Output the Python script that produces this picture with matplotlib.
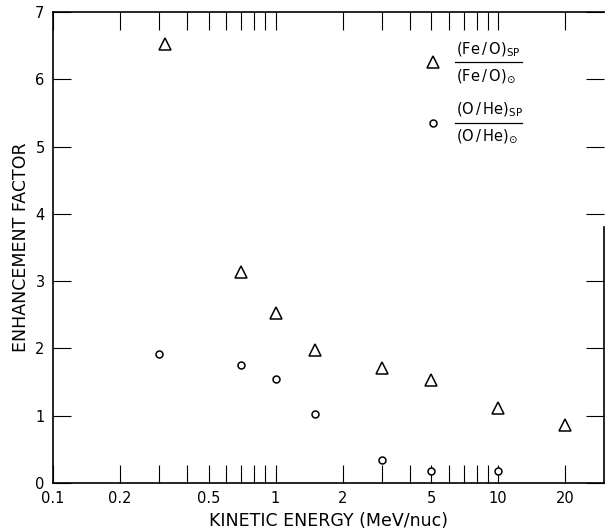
import matplotlib
matplotlib.use("Agg")
import matplotlib.pyplot as plt
from matplotlib.ticker import FixedLocator, NullFormatter, NullLocator

# energies (MeV/nuc) and enhancement factors
energia = [0.32, 0.7, 1.0, 1.5, 3.0, 5.0, 10.0, 20.0]
fe_o = [6.53, 3.14, 2.52, 1.98, 1.71, 1.53, 1.11, 0.86]

energia_o = [0.3, 0.7, 1.0, 1.5, 3.0, 5.0, 10.0]
o_he = [1.91, 1.75, 1.55, 1.03, 0.34, 0.18, 0.18]

x_etiketler = [0.1, 0.2, 0.5, 1, 2, 5, 10, 20]
x_etiket_yazi = ["0.1", "0.2", "0.5", "1", "2", "5", "10", "20"]
x_kucuk = [0.3, 0.4, 0.6, 0.7, 0.8, 0.9, 3, 4, 6, 7, 8, 9]
y_etiketler = [0, 1, 2, 3, 4, 5, 6, 7]

plt.rcParams["font.family"] = "DejaVu Sans"
plt.rcParams["mathtext.fontset"] = "dejavusans"

fig = plt.figure(figsize=(6.08, 5.31), dpi=100)
ax = fig.add_axes([0.087, 0.0904, 0.906, 0.887])

ax.plot(energia, fe_o, linestyle="none", marker="^", markersize=8,
        markerfacecolor="white", markeredgecolor="black", markeredgewidth=1.1)
ax.plot(energia_o, o_he, linestyle="none", marker="o", markersize=5,
        markerfacecolor="white", markeredgecolor="black", markeredgewidth=1.1)

ax.set_xscale("log")
ax.set_xlim(0.1, 29.8)
ax.set_ylim(0, 7)

ax.xaxis.set_major_locator(FixedLocator(x_etiketler))
ax.set_xticklabels(x_etiket_yazi)
ax.xaxis.set_minor_locator(FixedLocator(x_kucuk))
ax.xaxis.set_minor_formatter(NullFormatter())
ax.yaxis.set_major_locator(FixedLocator(y_etiketler))
ax.yaxis.set_minor_locator(NullLocator())

ax.tick_params(axis="both", which="both", direction="in", top=True, right=True,
               length=13, width=0.8, labelsize=10.5, pad=6)

for s in ax.spines.values():
    s.set_linewidth(1.2)
# sag kenar ust kismi eksik
ax.spines["right"].set_bounds(0, 3.8)

ax.set_xlabel("KINETIC ENERGY (MeV/nuc)", fontsize=12.5, labelpad=4)
ax.set_ylabel("ENHANCEMENT FACTOR", fontsize=12.5, labelpad=4)

# lejant: kesirli etiketler
def kesir(y_cizgi, pay, payda, isaret, ms):
    ax.plot([0.69], [y_cizgi], transform=ax.transAxes, marker=isaret, markersize=ms,
            markerfacecolor="white", markeredgecolor="black", markeredgewidth=1.1,
            linestyle="none", clip_on=False)
    ax.plot([0.730, 0.852], [y_cizgi, y_cizgi], transform=ax.transAxes,
            color="black", linewidth=0.9)
    ax.text(0.731, y_cizgi + 0.007, pay, transform=ax.transAxes, fontsize=10.5,
            ha="left", va="bottom")
    ax.text(0.731, y_cizgi - 0.010, payda, transform=ax.transAxes, fontsize=10.5,
            ha="left", va="top")

kesir(0.893, r"$\mathregular{(Fe\,/\,O)_{SP}}$", r"$\mathregular{(Fe\,/\,O)}_{\odot}$", "^", 8)
kesir(0.765, r"$\mathregular{(O\,/\,He)_{SP}}$", r"$\mathregular{(O\,/\,He)}_{\odot}$", "o", 5)

fig.savefig("out.png", dpi=100)
